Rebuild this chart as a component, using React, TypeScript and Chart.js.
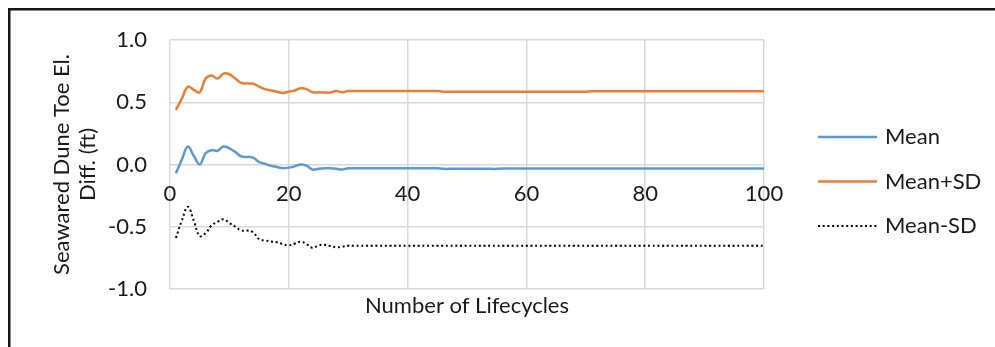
import React, { useEffect, useRef } from "react";
import { Chart, registerables } from "chart.js";

Chart.register(...registerables);

const lifecycles = [
  1, 2, 3, 4, 5, 6, 7, 8, 9, 10,
  11, 12, 13, 14, 15, 16, 17, 18, 19, 20,
  21, 22, 23, 24, 25, 26, 27, 28, 29, 30,
  31, 32, 33, 34, 35, 36, 37, 38, 39, 40,
  41, 42, 43, 44, 45, 46, 47, 48, 49, 50,
  51, 52, 53, 54, 55, 56, 57, 58, 59, 60,
  61, 62, 63, 64, 65, 66, 67, 68, 69, 70,
  71, 72, 73, 74, 75, 76, 77, 78, 79, 80,
  81, 82, 83, 84, 85, 86, 87, 88, 89, 90,
  91, 92, 93, 94, 95, 96, 97, 98, 99, 100,
];

const meanValues = [
  -0.07, 0.04, 0.145, 0.07, 0.0, 0.09, 0.115, 0.11, 0.145, 0.13,
  0.1, 0.065, 0.06, 0.055, 0.02, 0.005, -0.01, -0.02, -0.03, -0.025,
  -0.015, 0.0, -0.01, -0.04, -0.035, -0.03, -0.03, -0.035, -0.04, -0.03,
  -0.03, -0.03, -0.03, -0.03, -0.03, -0.03, -0.03, -0.03, -0.03, -0.03,
  -0.03, -0.03, -0.03, -0.03, -0.03, -0.035, -0.035, -0.035, -0.035, -0.035,
  -0.035, -0.035, -0.035, -0.035, -0.035, -0.032, -0.032, -0.032, -0.032, -0.032,
  -0.032, -0.032, -0.032, -0.032, -0.032, -0.032, -0.032, -0.032, -0.032, -0.032,
  -0.032, -0.032, -0.032, -0.032, -0.032, -0.032, -0.032, -0.032, -0.032, -0.032,
  -0.032, -0.032, -0.032, -0.032, -0.032, -0.032, -0.032, -0.032, -0.032, -0.032,
  -0.032, -0.032, -0.032, -0.032, -0.032, -0.032, -0.032, -0.032, -0.032, -0.032,
];

const meanPlusSD = [
  0.44, 0.53, 0.625, 0.6, 0.58, 0.69, 0.715, 0.69, 0.73, 0.725,
  0.69, 0.655, 0.65, 0.648, 0.625, 0.605, 0.595, 0.585, 0.575, 0.585,
  0.595, 0.612, 0.605, 0.58, 0.58, 0.578, 0.578, 0.59, 0.58, 0.59,
  0.59, 0.59, 0.59, 0.59, 0.59, 0.59, 0.59, 0.59, 0.59, 0.59,
  0.59, 0.59, 0.59, 0.59, 0.59, 0.585, 0.585, 0.585, 0.585, 0.585,
  0.585, 0.585, 0.585, 0.585, 0.585, 0.585, 0.585, 0.585, 0.585, 0.585,
  0.585, 0.585, 0.585, 0.585, 0.585, 0.585, 0.585, 0.585, 0.585, 0.585,
  0.588, 0.588, 0.588, 0.588, 0.588, 0.588, 0.588, 0.588, 0.588, 0.588,
  0.588, 0.588, 0.588, 0.588, 0.588, 0.588, 0.588, 0.588, 0.588, 0.588,
  0.588, 0.588, 0.588, 0.588, 0.588, 0.588, 0.588, 0.588, 0.588, 0.588,
];

const meanMinusSD = [
  -0.59, -0.45, -0.34, -0.45, -0.575, -0.55, -0.49, -0.46, -0.44, -0.47,
  -0.5, -0.53, -0.53, -0.545, -0.6, -0.61, -0.618, -0.625, -0.64, -0.65,
  -0.635, -0.62, -0.64, -0.67, -0.65, -0.645, -0.655, -0.665, -0.66, -0.652,
  -0.652, -0.652, -0.652, -0.652, -0.652, -0.652, -0.652, -0.652, -0.652, -0.652,
  -0.652, -0.652, -0.652, -0.652, -0.652, -0.652, -0.652, -0.652, -0.652, -0.652,
  -0.652, -0.652, -0.652, -0.652, -0.652, -0.652, -0.652, -0.652, -0.652, -0.652,
  -0.652, -0.652, -0.652, -0.652, -0.652, -0.652, -0.652, -0.652, -0.652, -0.652,
  -0.652, -0.652, -0.652, -0.652, -0.652, -0.652, -0.652, -0.652, -0.652, -0.652,
  -0.652, -0.652, -0.652, -0.652, -0.652, -0.652, -0.652, -0.652, -0.652, -0.652,
  -0.652, -0.652, -0.652, -0.652, -0.652, -0.652, -0.652, -0.652, -0.652, -0.652,
];

const xTicks = [0, 20, 40, 60, 80, 100];
const yTicks = [-1.0, -0.5, 0.0, 0.5, 1.0];
const seriesLabels = ["Mean", "Mean+SD", "Mean-SD"];
const yTitle = ["Seawared Dune Toe El.", "Diff. (ft)"];
const xTitle = "Number of Lifecycles";

const FONT = "Lato";
const FONT_SIZE = 22;
const TEXT_COLOR = "#1a1a1a";
const GRID_COLOR = "#d9d9d9";

export default function App() {
  const ref = useRef<HTMLCanvasElement>(null);

  useEffect(() => {
    if (!ref.current) return;
    const toPts = (arr: number[]) => lifecycles.map((x, i) => ({ x, y: arr[i] }));

    const framePlugin = {
      id: "frame",
      afterDraw(chart: any) {
        const ctx = chart.ctx;
        ctx.save();
        ctx.fillStyle = "#151515";
        ctx.fillRect(8, 8, chart.width - 8, 2.5);
        ctx.fillRect(8, 8, 2.5, chart.height - 8);
        ctx.restore();
      },
    };

    const legendPlugin = {
      id: "sideLegend",
      afterDraw(chart: any) {
        const ctx = chart.ctx;
        ctx.save();
        chart.data.datasets.forEach((ds: any, i: number) => {
          const y = 137 + i * 44.5;
          ctx.beginPath();
          ctx.strokeStyle = ds.borderColor;
          ctx.lineWidth = ds.borderWidth;
          ctx.setLineDash(ds.borderDash || []);
          ctx.moveTo(818, y);
          ctx.lineTo(877, y);
          ctx.stroke();
          ctx.setLineDash([]);
          ctx.fillStyle = TEXT_COLOR;
          ctx.font = `${FONT_SIZE}px ${FONT}`;
          ctx.textBaseline = "middle";
          ctx.textAlign = "left";
          ctx.fillText(ds.label, 885, y);
        });
        ctx.restore();
      },
    };

    const tickFont = { family: FONT, size: FONT_SIZE };

    const chart = new Chart(ref.current, {
      type: "line",
      data: {
        datasets: [
          {
            label: seriesLabels[0],
            data: toPts(meanValues),
            borderColor: "#5B9BD5",
            borderWidth: 2.5,
            pointRadius: 0,
            tension: 0.4,
            xAxisID: "x",
            yAxisID: "y",
          },
          {
            label: seriesLabels[1],
            data: toPts(meanPlusSD),
            borderColor: "#ED7D31",
            borderWidth: 2.5,
            pointRadius: 0,
            tension: 0.4,
            xAxisID: "x",
            yAxisID: "y",
          },
          {
            label: seriesLabels[2],
            data: toPts(meanMinusSD),
            borderColor: "#000000",
            borderWidth: 2,
            borderDash: [2, 2.7],
            pointRadius: 0,
            tension: 0.4,
            xAxisID: "x",
            yAxisID: "y",
          },
        ],
      },
      options: {
        animation: false,
        responsive: false,
        layout: { padding: { left: 49, top: 40, right: 231, bottom: 0 } },
        plugins: { legend: { display: false }, tooltip: { enabled: false } },
        scales: {
          x: {
            type: "linear",
            min: 0,
            max: 100,
            position: "bottom",
            afterBuildTicks: (s: any) => {
              s.ticks = xTicks.map((v) => ({ value: v }));
            },
            afterFit: (s: any) => {
              s.height = 58;
            },
            ticks: { display: false },
            grid: { color: GRID_COLOR, lineWidth: 1.5, drawTicks: false },
            border: { display: false },
            title: {
              display: true,
              text: xTitle,
              color: TEXT_COLOR,
              font: { family: FONT, size: FONT_SIZE },
              padding: { top: 0, bottom: 28 },
            },
          },
          x2: {
            type: "linear",
            axis: "x",
            min: 0,
            max: 100,
            position: { y: 0 },
            afterBuildTicks: (s: any) => {
              s.ticks = xTicks.map((v) => ({ value: v }));
            },
            ticks: { font: tickFont, color: TEXT_COLOR, padding: 16, maxRotation: 0 },
            grid: { display: false, drawTicks: false },
            border: { display: false },
          },
          y: {
            type: "linear",
            min: -1,
            max: 1,
            afterBuildTicks: (s: any) => {
              s.ticks = yTicks.map((v) => ({ value: v }));
            },
            afterFit: (s: any) => {
              s.width = 121;
            },
            ticks: {
              font: tickFont,
              color: TEXT_COLOR,
              padding: 23,
              callback: (v: any) => Number(v).toFixed(1),
            },
            grid: { color: GRID_COLOR, lineWidth: 1.5, drawTicks: false },
            border: { display: false },
            title: {
              display: true,
              text: yTitle,
              color: TEXT_COLOR,
              font: { family: FONT, size: FONT_SIZE, lineHeight: 26 / FONT_SIZE },
              padding: { top: 0, bottom: 0 },
            },
          },
        },
      },
      plugins: [framePlugin, legendPlugin],
    } as any);

    return () => chart.destroy();
  }, []);

  return (
    <canvas
      ref={ref}
      width={995}
      height={347}
      style={{ position: "absolute", left: 0, top: 0, display: "block" }}
    />
  );
}
